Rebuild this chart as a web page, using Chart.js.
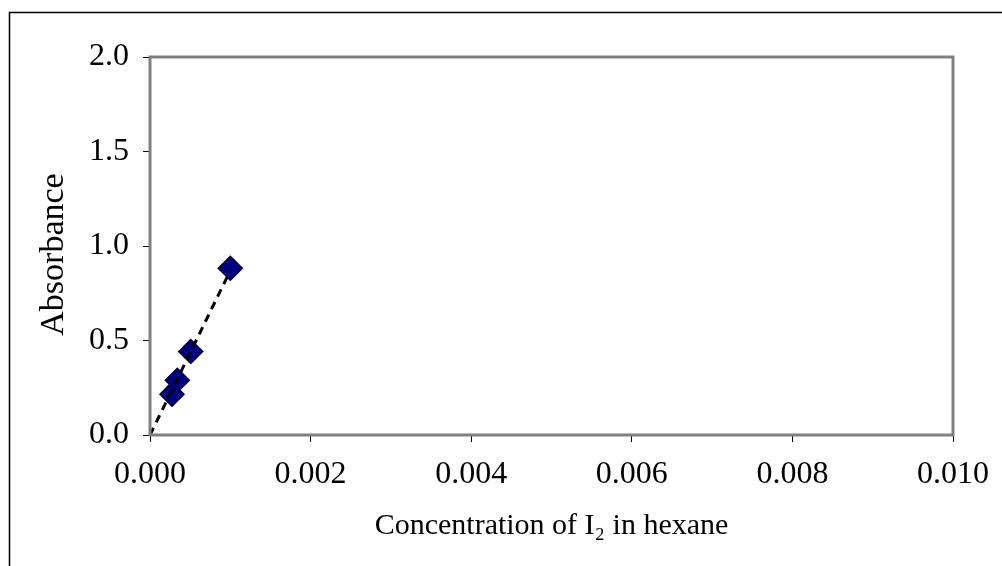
<!DOCTYPE html>
<html>
<head>
<meta charset="utf-8">
<script src="https://cdn.jsdelivr.net/npm/chart.js@4"></script>
<style>
  html, body { margin: 0; padding: 0; background: #fff; }
  #wrap { width: 1002px; height: 566px; position: relative; }
</style>
</head>
<body>
<div id="wrap"><canvas id="chart" width="1002" height="566"></canvas></div>
<script>
// data
const concentration = [0.000274, 0.00034, 0.000507, 0.001];
const absorbance = [0.216, 0.29, 0.442, 0.882];
// trend line end points
const trendX = [0, 0.001];
const trendY = [0, 0.87];
const xTicks = [0, 0.002, 0.004, 0.006, 0.008, 0.010];
const yTicks = [0, 0.5, 1.0, 1.5, 2.0];

const serif = 'Liberation Serif';

// outer frame + plot-area box, like the Excel chart
const frame = {
  id: 'frame',
  beforeDraw(chart) {
    const ctx = chart.ctx;
    ctx.save();
    ctx.fillStyle = '#fff';
    ctx.fillRect(0, 0, chart.width, chart.height);
    ctx.strokeStyle = '#000';
    ctx.lineWidth = 1.5;
    ctx.beginPath();
    ctx.moveTo(9.5, chart.height);
    ctx.lineTo(9.5, 12.5);
    ctx.lineTo(chart.width, 12.5);
    ctx.stroke();
    ctx.restore();
  },
  afterDatasetsDraw(chart) {
    const a = chart.chartArea;
    const ctx = chart.ctx;
    ctx.save();
    ctx.strokeStyle = '#808080';
    ctx.lineWidth = 3;
    ctx.strokeRect(a.left, a.top, a.right - a.left, a.bottom - a.top);
    ctx.restore();
  }
};

const points = concentration.map((x, i) => ({ x, y: absorbance[i] }));
const trend = trendX.map((x, i) => ({ x, y: trendY[i] }));

new Chart(document.getElementById('chart'), {
  type: 'scatter',
  data: {
    datasets: [
      {
        label: 'Absorbance',
        data: points,
        pointStyle: 'rectRot',
        pointRadius: 12,
        backgroundColor: '#000080',
        borderColor: '#00003a',
        borderWidth: 1.5,
        order: 2
      },
      {
        label: 'Trend',
        data: trend,
        type: 'line',
        showLine: true,
        borderColor: '#000',
        borderWidth: 3,
        borderDash: [8, 6],
        pointRadius: 0,
        fill: false,
        order: 1
      }
    ]
  },
  plugins: [frame],
  options: {
    responsive: false,
    animation: false,
    events: [],
    layout: { padding: { left: 0, top: 57, right: 49, bottom: 0 } },
    plugins: { legend: { display: false }, tooltip: { enabled: false } },
    scales: {
      x: {
        type: 'linear',
        min: 0,
        max: 0.010,
        afterBuildTicks: s => { s.ticks = xTicks.map(v => ({ value: v })); },
        afterFit: s => { s.height = 131; },
        ticks: {
          color: '#000',
          font: { family: serif, size: 32 },
          padding: 13,
          maxRotation: 0,
          callback: v => v.toFixed(3)
        },
        grid: { drawOnChartArea: false, drawTicks: true, tickLength: 7, color: '#000', lineWidth: 1 },
        border: { display: false },
        title: {
          display: true,
          text: 'Concentration of I\u2082 in hexane',
          color: '#000',
          font: { family: serif, size: 30 },
          padding: { top: 0, bottom: 22 }
        }
      },
      y: {
        type: 'linear',
        min: 0,
        max: 2,
        afterBuildTicks: s => { s.ticks = yTicks.map(v => ({ value: v })); },
        afterFit: s => { s.width = 150; },
        ticks: {
          color: '#000',
          font: { family: serif, size: 32 },
          padding: 14,
          callback: v => v.toFixed(1)
        },
        grid: { drawOnChartArea: false, drawTicks: true, tickLength: 7, color: '#000', lineWidth: 1 },
        border: { display: false },
        title: {
          display: true,
          text: 'Absorbance\u00a0\u00a0',
          color: '#000',
          font: { family: serif, size: 34 },
          padding: { top: 34, bottom: 0 }
        }
      }
    }
  }
});
</script>
</body>
</html>
